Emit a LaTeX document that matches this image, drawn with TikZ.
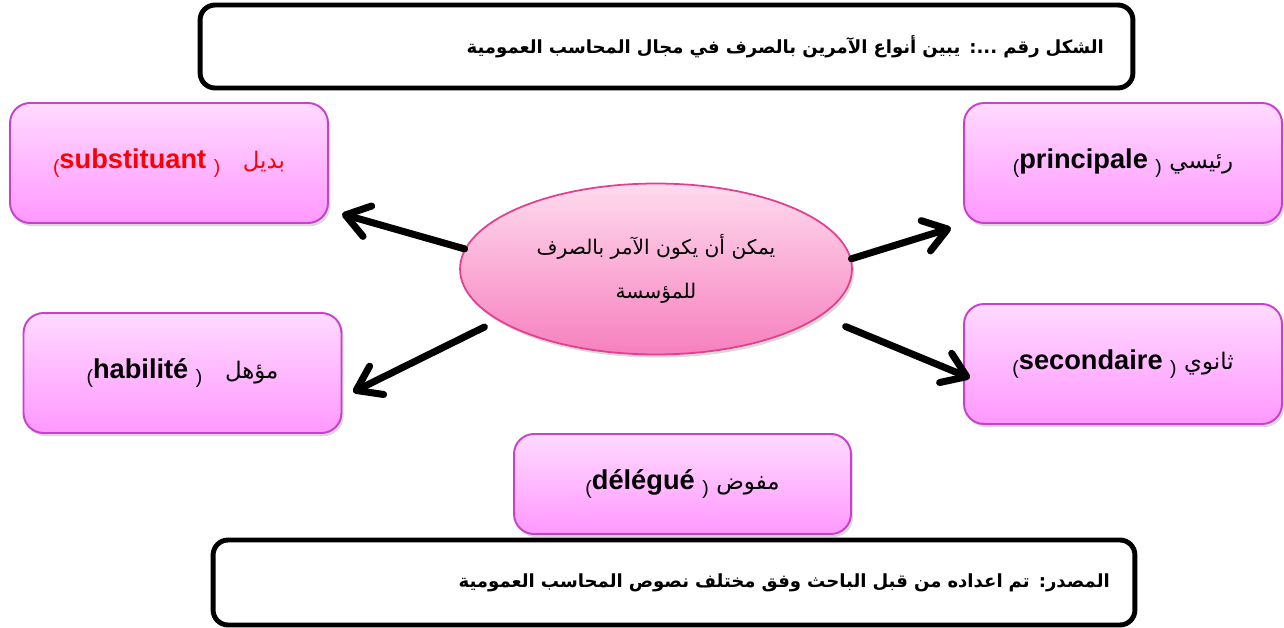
\documentclass[tikz,border=0pt]{standalone}
\usepackage{fontspec}
\setmainfont{Liberation Sans}
\newfontfamily\arabicfont[Script=Arabic]{DejaVu Sans}
\TeXXeTstate=1
\usepackage{tikz}
\usetikzlibrary{arrows.meta,shapes.geometric,shadows}
\usetikzlibrary{positioning}

\definecolor{boxtop}{RGB}{255,218,255}
\definecolor{boxbot}{RGB}{255,152,255}
\definecolor{boxline}{RGB}{200,64,205}
\definecolor{elltop}{RGB}{255,218,238}
\definecolor{ellbot}{RGB}{246,128,190}
\definecolor{ellline}{RGB}{228,62,142}
\newcommand{\artext}[1]{{\arabicfont\mdseries\fontsize{13}{15}\selectfont\beginR #1\endR}}
\newcommand{\lpar}{\raisebox{-2.5pt}{\mdseries\fontsize{11}{11}\selectfont(}}
\newcommand{\rpar}{\raisebox{-2.5pt}{\mdseries\fontsize{11}{11}\selectfont)}}

\begin{document}
\begin{tikzpicture}[x=0.02cm,y=-0.02cm,line cap=round,line join=round,
  kind/.style={rounded corners=0.4cm,draw=boxline,line width=1.1pt,top color=boxtop,bottom color=boxbot,
    drop shadow={opacity=0.3,shadow xshift=1.2pt,shadow yshift=-1.8pt},
    minimum width=6.36cm,minimum height=2.4cm,font=\bfseries\fontsize{15.5}{18}\selectfont},
  frame/.style={rounded corners=0.3cm,draw=black,line width=2.8pt,fill=white,
    font=\arabicfont\bfseries\fontsize{10.3}{14}\selectfont,align=right},
  arr/.style={line width=4pt,-{Straight Barb[round,length=13pt,width=18pt]}}]
\useasboundingbox (0,0) rectangle (1284,628);
% title frame
\node[frame,minimum width=18.66cm,minimum height=1.66cm,text width=17.5cm] (title) at (666.5,46.5)
  {\beginR الشكل رقم ...: يبين أنواع الآمرين بالصرف في مجال المحاسب العمومية\endR};
% kinds of authorising officers
\node[kind,text=red] (sub) at (169,163)
  {\lpar substituant\ \rpar\ \ \ \artext{بديل}};
\node[kind] (prin) at (1123,163)
  {\lpar principale\ \rpar\ \artext{رئيسي}};
\node[kind] (hab) at (182.5,373)
  {\lpar habilité\ \rpar\ \ \ \artext{مؤهل}};
\node[kind] (sec) at (1123,364)
  {\lpar secondaire\ \rpar\ \artext{ثانوي}};
\node[kind,minimum width=6.74cm,minimum height=2cm] (del) at (682.5,484)
  {\lpar délégué\ \rpar\ \artext{مفوض}};
% centre
\node[ellipse,draw=ellline,line width=1pt,top color=elltop,bottom color=ellbot,
  drop shadow={opacity=0.3,shadow xshift=1.2pt,shadow yshift=-1.8pt},
  minimum width=7.84cm,minimum height=3.42cm,inner sep=0pt,align=center,
  font=\arabicfont\fontsize{11.5}{25}\selectfont] (ell) at (656,269)
  {\beginR يمكن أن يكون الآمر بالصرف\endR\\ \beginR للمؤسسة\endR};
% arrow ends
\coordinate (subtip) at (342,214);
\coordinate (habtip) at (353,392);
\coordinate (printip) at (951,228);
\coordinate (sectip) at (970,378);
\draw[arr] (ell.174) -- (subtip);
\draw[arr,shorten <=0.3cm] (ell.198) -- (habtip);
\draw[arr] (ell.3.5) -- (printip);
\draw[arr,shorten <=0.54cm] (ell.-16) -- (sectip);
% source frame
\node[frame,minimum width=18.44cm,minimum height=1.7cm,text width=17.44cm] (src) at (674,582.5)
  {\beginR المصدر: تم اعداده من قبل الباحث وفق مختلف نصوص المحاسب العمومية\endR};
\end{tikzpicture}
\end{document}
